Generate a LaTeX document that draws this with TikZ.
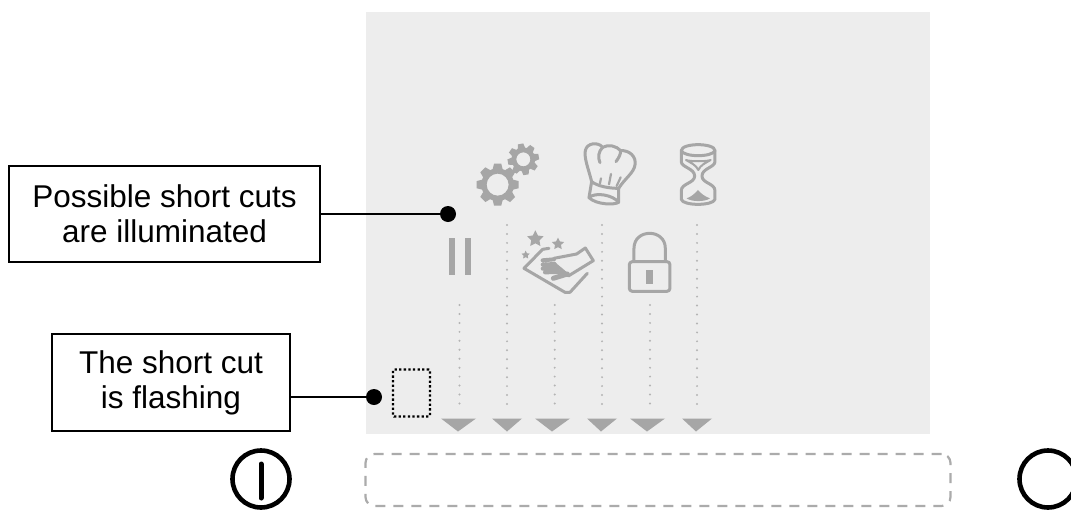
\documentclass[tikz,border=0pt]{standalone}
\usepackage{fontspec}
\setmainfont{Liberation Sans}
\definecolor{panel}{HTML}{EDEDED}
\definecolor{icon}{HTML}{A6A6A6}
\definecolor{dash}{HTML}{ABABAB}
\definecolor{dots}{HTML}{B4B4B4}
\tikzset{
  labelbox/.style={draw=black,line width=2pt,fill=white,align=center,font=\fontsize{31.5}{35}\selectfont,inner sep=0pt},
  pin/.style={circle,fill=black,draw=none,minimum size=16pt,inner sep=0pt},
  lead/.style={black,line width=2.6pt},
  guide/.style={dots,line width=2.2pt,line cap=round,dash pattern=on 0pt off 8.95pt},
  tri/.style={fill=icon,draw=none},
  iconline/.style={icon,line width=3pt,line cap=round,line join=round},
  power/.style={black,line width=5pt,line cap=round},
  ring/.style={circle,draw=black,line width=4.6pt,minimum size=57pt,inner sep=0pt},
  iz/.style={shift={(430pt,-130pt)},x=0.3333pt,y=-0.3333pt}
}
\begin{document}
\begin{tikzpicture}[x=1pt,y=-1pt]
\useasboundingbox (0,0) rectangle (1071,509);
\fill[panel] (366,12) rectangle (930,434);
% guides
\foreach \n/\x/\y in {a/459.5/305,b/507/225,c/554.7/305,d/602/225,e/650/305,f/697/225}{
  \coordinate (g\n t) at (\x,\y);
  \coordinate (g\n b) at (\x,411.5);
  \draw[guide] (g\n t) -- (g\n b);
}
% triangles
\foreach \l/\r/\m in {441/476/458,492/522/507,535/570/552,587/617/601,630/665/647,682/712/696}{
  \fill[tri] (\l,418.5) -- (\r,418.5) -- (\m,431.5) -- cycle;
}
% flashing box
\node[draw=black,line width=2.3pt,dash pattern=on 2.3pt off 2.3pt,minimum width=37pt,minimum height=47pt,inner sep=0pt,rounded corners=1pt] (flash) at (411.5,393) {};
% dashed display
\node[draw=dash,line width=2.2pt,dash pattern=on 10pt off 8pt,rounded corners=9pt,minimum width=585pt,minimum height=52pt,inner sep=0pt] (display) at (658,480) {};
% power buttons
\node[ring] (on) at (261,479) {};
\coordinate (ontop) at (261,464);
\coordinate (onbot) at (261,498);
\draw[power] (ontop) -- (onbot);
\node[ring] (off) at (1048,479) {};
% icons, in zoomed reference units
\begin{scope}[iz]
  \foreach \cx/\cy/\ro/\ri/\rh/\rot in {203/164/63/49/33/0,280/88/47/36/21/10}{
    \fill[icon,even odd rule]
      (\cx,\cy) circle[radius=\ri] (\cx,\cy) circle[radius=\rh];
    \foreach \a in {0,45,...,315}{
      \fill[icon,shift={(\cx,\cy)},rotate=\a+\rot]
        (\ri-3,-\ro*0.24) -- (\ro,-\ro*0.17) -- (\ro,\ro*0.17) -- (\ri-3,\ro*0.24) -- cycle;
    }
  }
  % chef hat
  \draw[iconline]
    (485,155) .. controls (475,115) and (462,85) .. (466,62)
    .. controls (470,38) and (505,35) .. (518,52)
    .. controls (535,42) and (560,48) .. (572,62)
    .. controls (598,60) and (620,80) .. (615,105)
    .. controls (612,128) and (585,145) .. (566,175);
  \draw[iconline] (518,52) .. controls (505,65) and (503,82) .. (510,98);
  \draw[iconline] (572,62) .. controls (572,75) and (565,85) .. (558,95);
  \draw[iconline] (485,155) -- (477,203)
    .. controls (500,225) and (555,225) .. (566,217) -- (566,175)
    .. controls (540,175) and (505,170) .. (485,155);
  \draw[iconline] (477,203) .. controls (495,185) and (550,195) .. (566,217);
  \draw[iconline,line width=2.2pt] (513,145) -- (510,160) (543,132) -- (537,163) (572,142) -- (560,168);
  % hourglass
  \draw[iconline]
    (754,62) .. controls (754,38) and (855,38) .. (855,62)
    -- (855,95) .. controls (855,112) and (816,115) .. (816,138)
    .. controls (816,160) and (855,160) .. (855,182) -- (855,208)
    .. controls (850,228) and (758,228) .. (754,208) -- (754,182)
    .. controls (754,160) and (794,160) .. (794,138) .. controls (794,115) and (754,112) .. (754,95) -- cycle;
  \draw[iconline] (754,62) .. controls (762,82) and (847,82) .. (855,62);
  \fill[icon] (770,205) .. controls (785,200) and (795,190) .. (804,180) .. controls (812,190) and (825,200) .. (840,205) .. controls (825,216) and (785,216) .. (770,205) -- cycle;
  \draw[iconline,line width=2pt] (768,90) .. controls (780,95) and (830,95) .. (842,90) .. controls (825,100) and (812,105) .. (805,120) .. controls (798,105) and (785,100) .. (768,90) -- cycle;
  % pause
  \fill[icon] (58,324) rectangle (76,434);
  \fill[icon] (104,324) rectangle (122,434);
  % lock
  \draw[iconline,rounded corners=3pt] (598,395) rectangle (720,484);
  \draw[iconline] (612,395) -- (612,355) .. controls (612,295) and (706,295) .. (706,355) -- (706,395);
  \fill[icon] (649,421) rectangle (668,461);
  % sparkle hand
  \foreach \sx/\sy/\sr in {316/327/26,384/342/19,287/375/13}{
    \fill[icon,shift={(\sx,\sy)},y=0.3333pt] (90:\sr) -- (126:0.5*\sr) -- (162:\sr) -- (198:0.5*\sr) -- (234:\sr) -- (270:0.5*\sr) -- (306:\sr) -- (342:0.5*\sr) -- (18:\sr) -- (54:0.5*\sr) -- cycle;
  }
  \draw[iconline] (357,355) -- (338,358) -- (282,415) -- (405,487) -- (420,487) -- (472,430);
  \draw[iconline] (372,385) -- (440,372) -- (466,354) -- (490,392) -- (415,438);
  \draw[iconline] (372,400) -- (415,436);
  \draw[icon,line width=4pt,line cap=round] (338,391) -- (372,388) (338,404) -- (374,402) (338,416) -- (385,414) (345,427) -- (398,426);
  \draw[icon,line width=5pt,line cap=round] (370,445) -- (412,432);
\end{scope}
% labels
\node[labelbox,minimum width=311pt,minimum height=96pt] (l1) at (164.5,214) {Possible short cuts\\are illuminated};
\node[labelbox,minimum width=238pt,minimum height=97pt] (l2) at (171,382.5) {The short cut\\is flashing};
\node[pin] (p1) at (448,214) {};
\node[pin] (p2) at (374,397) {};
\draw[lead] (l1.east) -- (p1);
\draw[lead] (l2.east |- p2) -- (p2);
\end{tikzpicture}
\end{document}
